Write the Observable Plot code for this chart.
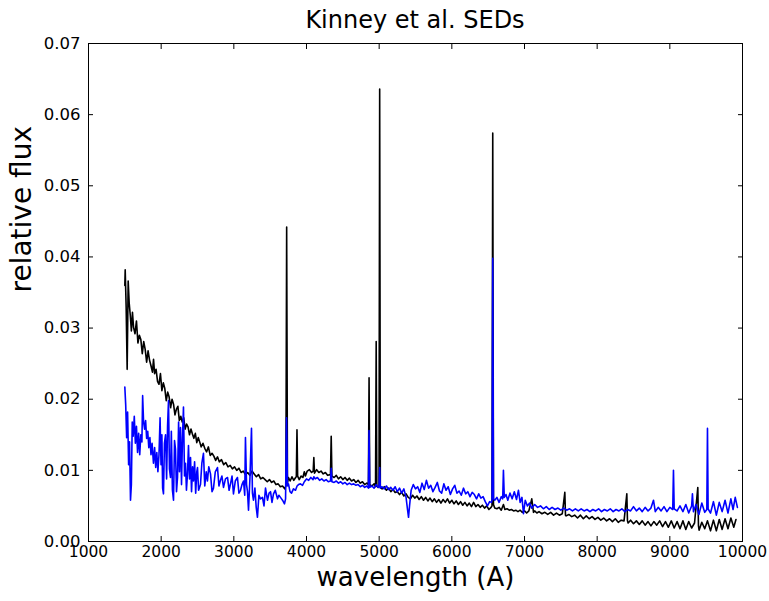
<!DOCTYPE html>
<html><head><meta charset="utf-8">
<script src="https://cdn.jsdelivr.net/npm/d3@7"></script>
<script src="https://cdn.jsdelivr.net/npm/@observablehq/plot@0.6"></script>
<style>
body{margin:0;background:#fff;font-family:"DejaVu Sans",sans-serif;}
#title{height:36px;line-height:40px;width:769px;box-sizing:border-box;padding-left:61px;text-align:center;font-size:24px;color:#000;}
</style></head><body>
<div id="title">Kinney et al. SEDs</div>
<div id="chart"></div>
<script>
const titleText = "Kinney et al. SEDs";
const xLabel = "wavelength (A)";
const yLabel = "relative flux";
const xTicks = [1000,2000,3000,4000,5000,6000,7000,8000,9000,10000];
const yTicks = [0,0.01,0.02,0.03,0.04,0.05,0.06,0.07];

const blackWave = [1500,1505,1518,1532,1546,1560,1575,1590,1605,1620,1640,1660,1680,1700,1720,1740,1760,1780,1800,1820,1840,1860,1880,1895,1910,1930,1950,1970,1990,2010,2030,2050,2070,2090,2110,2130,2150,2170,2190,2210,2230,2250,2270,2290,2310,2330,2350,2370,2390,2410,2430,2450,2470,2490,2510,2530,2550,2575,2600,2625,2650,2675,2700,2725,2750,2775,2800,2830,2860,2890,2920,2950,2980,3010,3040,3070,3100,3130,3160,3190,3220,3250,3280,3310,3340,3370,3400,3430,3460,3490,3520,3550,3580,3610,3640,3670,3700,3716,3727,3738,3752,3775,3800,3825,3850,3860,3869,3878,3900,3925,3950,3970,3985,4010,4040,4070,4092,4101,4110,4140,4170,4200,4230,4260,4290,4330,4340,4350,4380,4410,4440,4470,4500,4530,4560,4590,4620,4650,4680,4710,4740,4770,4800,4830,4852,4861,4870,4900,4930,4950,4959,4968,4985,4998,5007,5016,5040,5070,5100,5130,5160,5190,5220,5250,5280,5310,5340,5370,5400,5430,5460,5490,5520,5550,5580,5610,5640,5670,5700,5730,5760,5790,5820,5850,5880,5910,5940,5970,6000,6030,6060,6090,6120,6150,6180,6210,6240,6270,6300,6330,6360,6390,6420,6450,6480,6510,6540,6553,6563,6573,6590,6620,6650,6680,6710,6730,6760,6790,6820,6850,6880,6910,6940,6970,7000,7030,7060,7100,7124,7140,7170,7200,7240,7280,7320,7360,7400,7440,7480,7520,7555,7564,7573,7610,7650,7690,7730,7770,7810,7850,7890,7930,7970,8010,8050,8090,8130,8170,8210,8250,8290,8330,8370,8408,8417,8426,8460,8500,8540,8580,8620,8660,8700,8740,8780,8820,8860,8900,8940,8980,9020,9060,9100,9140,9180,9220,9260,9300,9340,9385,9394,9403,9440,9480,9518,9560,9600,9640,9680,9720,9760,9800,9840,9880,9910,9930];
const blackFlux = [.0360,.0382,.0330,.0242,.0366,.0335,
.0318,.0296,.0322,.0301,.0292,.0310,.0279,.0290,.0284,.0264,.0281,.0270,.0252,.0268,.0255,.0247,.0238,.0256,.0236,.0242,.0225,.0221,.0236,.0212,
.0223,.0215,.0198,.0210,.0203,.0188,.0200,.0193,.0178,.0186,.0190,.0170,.0176,.0168,.0174,.0158,.0165,.0161,.0150,.0158,.0151,.0145,.0152,.0139,.0146,
.0140,.0133,.0138,.0131,.0126,.0133,.0121,.0124,.0120,.0114,.0119,.0112,.0115,.0108,.0111,.0105,.0107,.0102,.0105,.0100,.0103,.0097,.0099,.0094,.0097,
.0093,.0099,.0095,.0091,.0094,.0088,.0090,.0087,.0084,.0087,.0083,.0085,.0080,.0081,.0077,.0078,.0074,
.0078,.0442,.0082,.0090,.0085,.0091,.0086,.0090,.0091,.0157,.0092,.0087,.0092,.0090,.0098,.0092,.0099,.0101,.0097,.0099,.0118,.0096,.0101,.0097,.0099,.0095,.0097,.0093,.0094,.0148,.0092,.0090,.0093,.0088,.0091,.0087,.0090,.0086,.0089,.0085,.0087,.0083,.0086,.0082,.0084,.0080,.0082,.0080,.0230,.0080,.0078,.0081,.0077,.0281,.0078,.0076,.0078,.0636,.0076,.0074,.0077,.0072,.0075,.0070,.0073,.0069,.0070,.0066,.0069,.0064,.0067,.0062,.0060,.0065,.0061,.0064,.0059,.0063,.0058,.0062,.0057,.0061,.0056,.0060,.0055,.0059,.0054,.0059,.0055,.0060,.0054,.0058,.0053,.0057,.0052,.0056,.0051,.0055,.0050,.0054,.0049,.0055,.0049,.0052,.0048,.0051,.0047,.0050,.0045,.0048,.0050,.0574,.0052,.0047,.0046,.0048,.0044,.0052,.0045,.0046,.0044,.0045,.0043,.0044,.0042,.0044,.0041,.0043,.0040,.0043,.0060,.0041,.0043,.0040,.0042,.0039,.0041,.0038,.0041,.0037,.0040,.0037,.0039,.0069,.0037,.0036,.0038,.0035,.0037,.0033,.0037,.0032,.0036,.0032,.0035,.0031,.0034,.0030,.0033,.0029,.0032,.0028,.0032,.0027,.0030,.0029,.0067,.0029,.0026,.0030,.0025,.0029,.0024,.0029,.0023,.0028,.0022,.0028,.0023,.0029,.0021,.0028,.0020,.0029,.0019,.0028,.0018,.0029,.0017,.0028,.0019,.0026,.0076,.0022,.0016,.0027,.0018,.0029,.0015,.0030,.0015,.0031,.0017,.0032,.0018,.0033,.0020,.0031];

const blueWave = [1500,1512,1525,1538,1552,1565,1578,1590,1602,1615,1630,1645,1660,1675,1690,1705,1720,1735,1745,1758,1772,1786,1800,1815,1830,1845,1860,1875,1894,1910,1925,1940,1955,1970,1985,1998,2010,2020,2032,2045,2060,2075,2088,2101,2114,2128,2140,2155,2170,2184,2197,2211,2225,2240,2252,2266,2280,2293,2307,2321,2335,2348,2362,2376,2390,2404,2418,2432,2445,2460,2475,2490,2500,2515,2541,2560,2582,2600,2620,2637,2655,2679,2700,2720,2745,2775,2795,2816,2836,2858,2885,2913,2935,2954,2975,2995,3020,3050,3070,3092,3112,3133,3150,3160,3175,3188,3202,3222,3243,3256,3270,3290,3308,3325,3345,3367,3394,3415,3436,3463,3485,3505,3525,3546,3570,3601,3620,3642,3670,3697,3712,3725,3738,3752,3773,3794,3820,3849,3870,3890,3917,3945,3970,4000,4030,4060,4090,4101,4120,4150,4180,4210,4240,4270,4300,4330,4340,4350,4380,4410,4440,4470,4500,4530,4560,4590,4620,4650,4680,4710,4740,4770,4800,4830,4852,4861,4870,4900,4930,4959,4985,4998,5007,5016,5040,5070,5100,5130,5160,5190,5220,5250,5280,5310,5340,5370,5390,5404,5418,5440,5470,5500,5530,5560,5590,5620,5650,5680,5710,5740,5770,5800,5830,5860,5890,5920,5950,5980,6010,6040,6070,6100,6130,6160,6190,6220,6250,6280,6310,6340,6370,6400,6430,6460,6490,6520,6545,6553,6563,6573,6590,6620,6650,6680,6700,6710,6722,6745,6770,6800,6830,6860,6890,6917,6940,6965,6986,7010,7040,7070,7100,7140,7180,7220,7260,7300,7340,7380,7420,7460,7500,7540,7580,7620,7660,7700,7740,7780,7820,7860,7900,7940,7980,8020,8060,8100,8140,8180,8220,8260,8300,8340,8380,8420,8460,8500,8540,8580,8620,8660,8700,8740,8775,8800,8840,8880,8920,8960,9000,9040,9050,9060,9100,9140,9180,9220,9260,9300,9311,9325,9360,9400,9440,9480,9509,9518,9527,9560,9600,9640,9680,9720,9760,9800,9840,9870,9900,9930];
const blueFlux = [.0217,.0192,.0146,.0182,.0108,.0140,.0058,.0080,.0168,.0148,.0176,.0138,.0162,.0125,.0152,.0122,.0150,.0140,.0205,.0168,.0158,.0170,.0145,.0155,.0132,.0146,.0122,.0138,.0110,.0132,.0104,.0125,.0098,.0122,.0174,.0108,.0150,.0075,.0067,.0138,.0150,.0088,.0162,.0198,.0102,.0090,.0155,.0072,.0058,.0142,.0130,.0070,.0090,.0168,.0098,.0160,.0080,.0145,.0189,.0092,.0110,.0072,.0095,.0135,.0088,.0118,.0070,.0105,.0085,.0112,.0068,.0098,.0104,.0072,.0080,.0110,.0124,.0078,.0098,.0085,.0105,.0095,.0070,.0075,.0098,.0104,.0078,.0086,.0092,.0076,.0088,.0090,.0072,.0081,.0092,.0067,.0085,.0090,.0068,.0072,.0080,.0085,.0065,.0146,.0080,.0070,.0044,.0090,.0159,.0068,.0058,.0075,.0048,.0034,.0065,.0060,.0062,.0050,.0075,.0058,.0068,.0070,.0055,.0067,.0072,.0060,.0065,.0062,.0058,.0053,.0060,.0174,.0078,.0081,.0070,.0068,.0074,.0072,.0078,.0080,.0081,.0079,.0084,.0088,.0086,.0090,.0087,.0091,.0088,.0090,.0086,.0088,.0085,.0087,.0084,.0085,.0103,.0084,.0083,.0085,.0082,.0084,.0081,.0083,.0080,.0082,.0080,.0081,.0079,.0080,.0077,.0079,.0076,.0078,.0075,.0156,.0076,.0078,.0075,.0080,.0076,.0077,.0104,.0075,.0077,.0074,.0078,.0073,.0076,.0072,.0077,.0070,.0075,.0068,.0074,.0062,.0045,.0034,.0050,
.0072,.0080,.0074,.0077,.0069,.0082,.0073,.0086,.0075,.0079,.0070,.0076,.0083,.0071,.0068,.0081,.0072,.0077,.0066,.0074,.0079,.0068,.0071,.0065,.0075,.0067,.0070,.0063,.0069,.0066,.0060,.0067,.0061,.0063,.0056,
.0050,.0056,.0055,.0058,.0398,.0060,.0058,.0062,.0055,.0063,.0060,.0100,.0062,.0066,.0058,.0068,.0060,.0070,.0059,.0072,.0055,.0062,.0039,.0058,.0050,.0054,.0047,.0052,.0048,.0050,.0046,.0049,.0045,.0048,.0045,.0047,.0044,.0047,.0044,.0046,.0043,.0046,.0043,.0046,.0043,.0045,.0042,.0045,.0043,.0046,.0042,.0045,.0043,.0046,.0042,.0045,.0043,.0046,.0042,.0045,.0043,.0049,.0043,.0047,.0042,.0048,.0043,.0047,.0058,.0042,.0048,.0043,.0049,.0042,.0048,.0045,.0100,.0046,.0043,.0050,.0042,.0052,.0040,.0050,.0067,.0042,.0052,.0038,.0054,.0041,.0045,.0159,.0046,.0040,.0056,.0037,.0055,.0042,.0058,.0040,.0060,.0045,.0062,.0048];

const black = blackWave.map((w, i) => ({wave: w, flux: blackFlux[i]}));
const blue = blueWave.map((w, i) => ({wave: w, flux: blueFlux[i]}));
const noLabel = () => "";

const chart = Plot.plot({
  width: 769,
  height: 565,
  marginLeft: 88,
  marginRight: 27,
  marginTop: 7,
  marginBottom: 60,
  style: {fontFamily: "DejaVu Sans, sans-serif", background: "#fff", color: "#000", overflow: "visible"},
  x: {domain: [1000, 10000]},
  y: {domain: [0, 0.07]},
  marks: [
    Plot.line(black, {x: "wave", y: "flux", stroke: "#000", strokeWidth: 1.6}),
    Plot.line(blue, {x: "wave", y: "flux", stroke: "#0000ff", strokeWidth: 1.6}),
    Plot.frame({stroke: "#000", strokeWidth: 1}),
    Plot.axisX({anchor: "bottom", ticks: xTicks, tickFormat: d => String(d), tickSize: -5, tickPadding: 9, fontSize: 15.5, label: null, stroke: "#000"}),
    Plot.axisX({anchor: "top", ticks: xTicks, tickFormat: noLabel, tickSize: -5, label: null, stroke: "#000"}),
    Plot.axisY({anchor: "left", ticks: yTicks, tickFormat: d3.format(".2f"), tickSize: -5, tickPadding: 13, fontSize: 16.5, label: null, stroke: "#000"}),
    Plot.axisY({anchor: "right", ticks: yTicks, tickFormat: noLabel, tickSize: -5, label: null, stroke: "#000"}),
    Plot.text([yLabel], {frameAnchor: "left", rotate: -90, dx: -66, fontSize: 28, fill: "#000"}),
    Plot.text([xLabel], {frameAnchor: "bottom", dy: 44, fontSize: 26, fill: "#000"})
  ]
});
document.getElementById("chart").appendChild(chart);
</script>
</body></html>
